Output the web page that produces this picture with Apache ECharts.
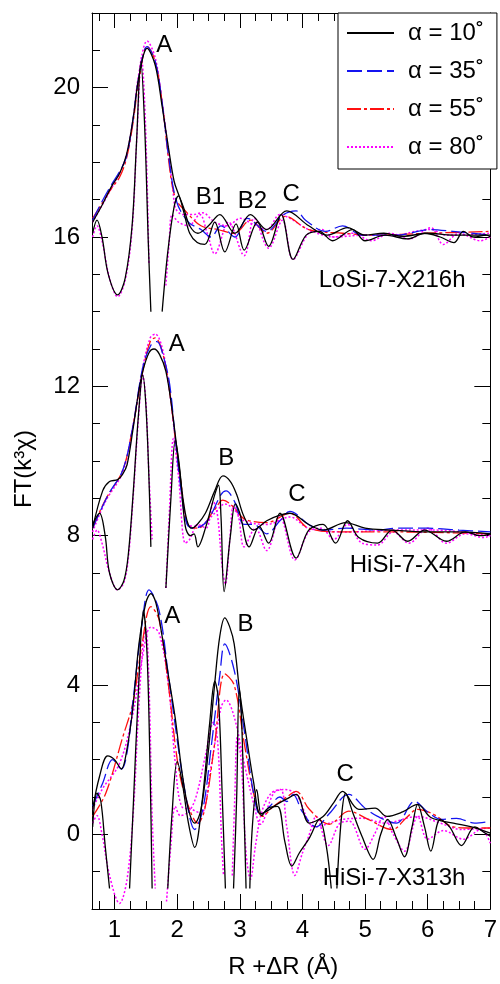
<!DOCTYPE html>
<html>
<head>
<meta charset="utf-8">
<script src="https://cdn.jsdelivr.net/npm/echarts@6/dist/echarts.min.js"></script>
<style>
  html, body { margin: 0; padding: 0; background: #fff; }
  #chart { width: 500px; height: 984px; }
</style>
</head>
<body>
<div id="chart"></div>
<script>
// FT magnitude and imaginary parts, three samples stacked with offsets (16, 8, 0).
// Each curve: [R + dR (Å), plotted value]; null marks a break where the trace leaves the panel.

const angleNames = ['α = 10˚', 'α = 35˚', 'α = 55˚', 'α = 80˚'];

// ---- LoSi-7-X216h (offset 16)
const losiMag10 = [[0.65,16.4],[0.8,16.85],[0.95,17.35],[1.08,17.7],[1.19,18.2],[1.29,19.1],[1.39,20.3],[1.52,21.05],[1.65,20.6],[1.76,19.5],[1.86,18.4],[1.95,17.5],[2.02,17.15],[2.1,16.8],[2.2,16.3],[2.33,16.1],[2.5,16.3],[2.68,16.6],[2.92,16.1],[3.17,16.6],[3.43,16.2],[3.75,16.7],[4.1,16.3],[4.4,16.05],[4.72,16.25],[5.0,16.05],[5.3,16.1],[5.6,16.02],[6.0,16.1],[6.4,16.05],[7.0,16.05]];
const losiMag35 = [[0.65,16.45],[0.8,16.95],[0.95,17.4],[1.08,17.75],[1.19,18.15],[1.29,19.1],[1.39,20.3],[1.52,21.1],[1.65,20.7],[1.76,19.6],[1.86,18.2],[1.99,16.95],[2.18,16.4],[2.38,16.2],[2.54,16.0],[2.7,16.3],[2.92,16.0],[3.12,16.5],[3.43,16.15],[3.7,16.6],[3.9,16.7],[4.05,16.45],[4.37,16.15],[4.64,16.3],[4.95,16.05],[5.5,16.05],[6.05,16.2],[6.4,16.15],[7.0,16.05]];
const losiMag55 = [[0.65,16.5],[0.8,16.9],[0.95,17.3],[1.08,17.6],[1.19,18.1],[1.29,19.0],[1.39,20.2],[1.52,21.1],[1.65,20.7],[1.76,19.6],[1.86,18.1],[1.93,17.3],[2.0,16.95],[2.13,16.7],[2.38,16.3],[2.65,16.2],[2.91,16.1],[3.17,16.45],[3.43,16.1],[3.73,16.55],[4.1,16.2],[4.64,16.1],[5.16,16.05],[6.0,16.1],[7.0,16.15]];
const losiMag80 = [[0.65,16.4],[0.8,16.85],[0.95,17.3],[1.08,17.7],[1.19,18.2],[1.29,19.1],[1.39,20.4],[1.52,21.25],[1.65,20.8],[1.76,19.6],[1.86,18.3],[1.93,17.3],[1.98,16.75],[2.1,16.6],[2.25,16.6],[2.4,16.65],[2.6,16.4],[2.8,16.3],[3.01,16.5],[3.2,16.35],[3.43,16.2],[3.64,16.6],[3.8,16.5],[4.1,16.2],[4.5,16.0],[5.0,16.05],[5.5,16.05],[5.8,16.15],[6.05,16.2],[6.3,16.05],[7.0,16.1]];
const losiIm10 = [[0.65,16.1],[0.72,16.45],[0.8,16.0],[0.9,15.0],[1.05,14.45],[1.17,14.9],[1.28,16.3],[1.35,18.5],[1.42,20.7],[1.48,19.0],[1.54,15.8],[1.58,14.0],[1.67,null],[1.76,14.0],[1.85,15.6],[1.95,16.8],[2.02,17.1],[2.1,16.7],[2.2,16.1],[2.32,15.85],[2.44,15.8],[2.6,16.4],[2.76,15.6],[2.94,16.35],[3.07,15.65],[3.28,16.4],[3.46,15.75],[3.66,16.6],[3.85,15.4],[4.06,16.05],[4.27,16.15],[4.48,15.9],[4.8,16.2],[5.0,15.9],[5.32,16.05],[5.68,15.95],[5.95,16.1],[6.2,16.0],[6.42,15.85],[6.57,16.15],[6.73,16.0],[6.94,16.05],[7.0,16.0]];
const losiIm80 = [[0.65,16.0],[0.72,16.3],[0.8,15.9],[0.92,14.9],[1.05,14.4],[1.17,14.85],[1.28,16.2],[1.36,18.8],[1.43,20.8],[1.49,19.2],[1.55,15.25],[1.68,null],[1.82,14.7],[1.87,15.8],[1.92,16.6],[2.02,16.4],[2.18,16.3],[2.36,16.6],[2.48,16.1],[2.6,15.55],[2.82,16.4],[3.07,15.5],[3.23,16.5],[3.46,15.7],[3.68,16.45],[3.85,15.4],[4.1,16.1],[4.3,16.2],[4.5,16.0],[4.8,16.1],[5.1,15.9],[5.4,16.1],[5.7,15.95],[6.05,16.25],[6.25,15.8],[6.5,16.1],[6.84,15.9],[7.0,16.0]];

// ---- HiSi-7-X4h (offset 8)
const x4Mag10 = [[0.65,8.2],[0.81,9.2],[0.92,9.45],[1.05,9.5],[1.13,9.65],[1.2,9.9],[1.29,10.8],[1.37,11.7],[1.45,12.4],[1.55,12.9],[1.63,13.0],[1.72,12.85],[1.82,12.4],[1.92,11.35],[2.02,10.0],[2.13,8.6],[2.23,8.2],[2.32,8.3],[2.45,8.6],[2.6,9.2],[2.73,9.6],[2.85,9.45],[2.95,9.1],[3.07,8.5],[3.22,8.15],[3.43,8.4],[3.64,8.55],[3.8,8.6],[4.1,8.3],[4.33,8.15],[4.69,8.35],[5.0,8.2],[5.4,8.15],[6.0,8.1],[6.5,8.1],[7.0,8.05]];
const x4Mag35 = [[0.65,8.2],[0.9,9.1],[1.13,9.75],[1.29,10.9],[1.45,12.5],[1.58,13.1],[1.68,13.2],[1.78,12.8],[1.88,12.05],[1.97,10.6],[2.06,9.25],[2.16,8.3],[2.28,8.2],[2.48,8.4],[2.7,9.1],[2.78,9.2],[2.92,8.9],[3.07,8.3],[3.22,8.3],[3.43,8.05],[3.64,8.4],[3.8,8.65],[4.1,8.3],[4.33,8.15],[4.7,8.2],[5.2,8.15],[5.5,8.2],[6.0,8.2],[6.5,8.15],[7.0,8.1]];
const x4Mag55 = [[0.65,8.2],[0.85,8.95],[1.13,9.75],[1.29,10.9],[1.45,12.4],[1.57,13.2],[1.65,13.3],[1.75,13.0],[1.86,12.1],[1.97,10.6],[2.07,9.3],[2.17,8.3],[2.33,8.2],[2.6,8.7],[2.73,8.95],[2.91,8.75],[3.07,8.45],[3.43,8.35],[3.8,8.6],[4.1,8.2],[4.64,8.1],[5.5,8.1],[7.0,8.05]];
const x4Mag80 = [[0.65,8.1],[0.85,8.9],[1.13,9.7],[1.29,10.9],[1.45,12.5],[1.57,13.3],[1.65,13.4],[1.75,13.1],[1.86,12.1],[1.97,10.6],[2.07,9.2],[2.17,8.3],[2.33,8.25],[2.6,8.6],[2.76,8.85],[2.91,8.7],[3.07,8.4],[3.43,8.3],[3.8,8.5],[4.1,8.2],[4.7,8.1],[5.5,8.15],[6.1,8.15],[7.0,8.0]];
const x4Im10 = [[0.65,8.3],[0.76,8.6],[0.85,8.0],[0.92,7.0],[1.05,6.55],[1.15,6.8],[1.22,7.5],[1.3,9.2],[1.38,11.2],[1.45,12.3],[1.5,11.5],[1.55,9.5],[1.58,7.7],[1.7,null],[1.82,6.6],[1.9,9.0],[1.97,10.55],[2.04,9.8],[2.13,8.25],[2.21,8.0],[2.27,8.05],[2.33,7.7],[2.46,8.25],[2.6,9.1],[2.66,9.35],[2.7,8.5],[2.75,6.5],[2.85,8.0],[2.93,8.85],[3.0,8.6],[3.15,7.7],[3.31,8.25],[3.46,7.8],[3.64,8.6],[3.9,7.4],[4.1,8.15],[4.33,8.3],[4.53,7.8],[4.72,8.4],[4.9,7.95],[5.2,7.8],[5.43,8.15],[5.68,7.85],[5.95,8.15],[6.3,7.85],[6.6,8.1],[6.85,8.0],[7.0,8.05]];
const x4Im80 = [[0.65,7.9],[0.72,8.15],[0.8,7.8],[0.92,7.0],[1.05,6.55],[1.15,6.75],[1.22,7.4],[1.3,9.1],[1.38,11.1],[1.45,12.3],[1.5,11.6],[1.55,9.6],[1.6,7.9],[1.71,null],[1.82,6.6],[1.88,8.8],[1.94,10.6],[2.02,9.6],[2.13,7.8],[2.2,7.9],[2.33,8.3],[2.46,8.2],[2.58,8.9],[2.64,8.6],[2.72,7.15],[2.77,6.7],[2.84,7.9],[2.9,8.8],[2.98,8.5],[3.07,7.7],[3.25,8.2],[3.43,7.6],[3.64,8.5],[3.88,7.35],[4.1,8.1],[4.3,8.2],[4.5,7.9],[4.72,8.3],[4.95,7.8],[5.2,7.75],[5.45,8.1],[5.7,7.8],[6.0,8.2],[6.3,7.8],[6.6,8.05],[6.9,7.95],[7.0,8.0]];

// ---- HiSi-7-X313h (offset 0)
const x313Mag10 = [[0.65,0.67],[0.76,1.55],[0.89,2.1],[1.0,2.0],[1.11,1.75],[1.19,2.2],[1.29,3.35],[1.39,5.1],[1.5,6.2],[1.58,6.45],[1.66,6.2],[1.76,5.3],[1.86,4.25],[1.97,3.1],[2.07,1.75],[2.18,0.67],[2.28,0.3],[2.38,0.67],[2.49,2.1],[2.6,4.05],[2.68,5.3],[2.76,5.8],[2.84,5.55],[2.91,5.1],[3.0,3.8],[3.12,2.45],[3.22,1.4],[3.33,0.55],[3.46,0.65],[3.59,0.8],[3.75,0.95],[3.9,1.07],[4.11,0.3],[4.33,0.48],[4.5,0.85],[4.64,1.15],[4.9,0.67],[5.16,0.7],[5.35,0.48],[5.6,0.6],[5.84,0.8],[6.05,0.45],[6.41,0.3],[6.7,0.2],[7.0,0.03]];
const x313Mag35 = [[0.65,0.75],[0.81,1.37],[0.97,2.0],[1.11,1.75],[1.2,2.2],[1.29,3.5],[1.44,5.65],[1.55,6.55],[1.71,6.0],[1.86,4.25],[2.02,2.3],[2.13,1.1],[2.28,0.13],[2.41,0.67],[2.54,2.3],[2.68,4.25],[2.76,5.1],[2.91,4.4],[3.07,2.8],[3.22,1.1],[3.33,0.52],[3.48,0.75],[3.64,1.0],[3.75,0.88],[3.85,1.07],[4.0,0.6],[4.22,0.2],[4.43,0.56],[4.74,1.07],[5.0,0.7],[5.2,0.48],[5.5,0.3],[5.79,0.88],[6.0,0.6],[6.22,0.4],[6.46,0.43],[6.75,0.3],[7.0,0.35]];
const x313Mag55 = [[0.65,0.48],[0.86,1.1],[1.13,2.6],[1.29,3.5],[1.44,5.1],[1.58,6.1],[1.71,5.75],[1.86,4.0],[2.02,1.8],[2.18,0.75],[2.33,0.3],[2.44,0.67],[2.6,2.45],[2.76,4.3],[2.91,4.0],[3.07,2.45],[3.22,1.1],[3.36,0.48],[3.54,0.75],[3.75,1.0],[3.9,1.15],[4.11,0.67],[4.43,0.27],[4.74,0.62],[5.05,0.4],[5.43,0.13],[5.68,0.48],[5.84,0.67],[6.1,0.53],[6.41,0.2],[6.73,0.17],[7.0,0.17]];
const x313Mag80 = [[0.65,0.67],[0.8,1.2],[1.08,1.9],[1.29,3.2],[1.44,4.7],[1.58,5.55],[1.71,5.4],[1.86,4.0],[1.97,1.9],[2.07,0.75],[2.23,0.67],[2.38,0.56],[2.54,1.8],[2.7,3.4],[2.78,3.6],[2.91,3.15],[3.07,1.9],[3.22,0.83],[3.33,0.27],[3.54,1.1],[3.7,1.2],[3.9,1.07],[4.2,0.2],[4.64,0.4],[4.95,0.43],[5.32,0.3],[5.84,0.48],[6.2,0.3],[6.54,0.13],[7.0,0.17]];
const x313Im10 = [[0.65,0.2],[0.72,1.1],[0.78,0.9],[0.85,-0.3],[0.92,-1.45],[1.08,null],[1.24,-1.45],[1.3,0.8],[1.38,3.8],[1.46,6.0],[1.52,4.8],[1.57,1.5],[1.6,-1.45],[1.72,null],[1.85,-1.45],[1.92,0.6],[2.0,1.95],[2.08,1.4],[2.18,0.3],[2.28,-0.35],[2.4,0.9],[2.52,3.0],[2.6,4.1],[2.66,3.6],[2.72,1.0],[2.77,-1.45],[2.83,null],[2.9,-1.45],[2.95,1.0],[2.99,3.9],[3.03,3.0],[3.07,0.5],[3.1,-1.45],[3.13,null],[3.16,-1.45],[3.2,0.2],[3.27,1.2],[3.35,0.5],[3.45,0.7],[3.6,0.75],[3.72,-0.2],[3.83,-0.85],[3.95,-0.5],[4.11,-0.1],[4.27,0.4],[4.38,-0.3],[4.46,-1.45],[4.5,null],[4.55,-1.45],[4.62,0.4],[4.69,1.1],[4.8,0.6],[4.95,-0.05],[5.13,-0.67],[5.25,0.0],[5.36,0.4],[5.5,-0.1],[5.63,-0.6],[5.75,0.2],[5.84,0.8],[5.95,0.2],[6.05,-0.45],[6.2,0.4],[6.35,0.2],[6.54,-0.3],[6.75,0.2],[6.9,0.05],[7.0,-0.05]];
const x313Im80 = [[0.65,0.3],[0.72,0.5],[0.8,0.0],[0.92,-1.1],[1.08,-1.85],[1.2,-1.2],[1.3,0.6],[1.38,3.2],[1.46,5.2],[1.5,5.5],[1.55,4.0],[1.6,0.5],[1.65,-1.45],[1.74,null],[1.83,-1.8],[1.9,-0.3],[1.97,0.75],[2.05,0.5],[2.18,0.6],[2.3,1.0],[2.45,2.1],[2.58,3.0],[2.65,2.4],[2.71,-0.2],[2.74,-1.1],[2.81,null],[2.88,-1.1],[2.92,1.0],[2.96,2.6],[3.02,2.0],[3.1,-0.5],[3.17,-1.2],[3.25,-0.3],[3.35,0.6],[3.5,1.1],[3.65,1.2],[3.75,0.2],[3.88,-1.1],[4.0,-0.5],[4.1,-0.05],[4.22,0.48],[4.41,-0.3],[4.6,0.3],[4.75,0.35],[5.0,-0.4],[5.15,0.0],[5.3,0.48],[5.45,0.0],[5.63,-0.45],[5.84,0.48],[6.0,-0.13],[6.25,0.1],[6.57,-0.13],[6.85,0.13],[7.0,-0.24]];

// Peak and sample labels: [text, R, value]
const peakLabels = [
  ['A', 1.80, 21.12], ['B1', 2.54, 17.06], ['B2', 3.21, 16.95], ['C', 3.83, 17.14],
  ['A', 2.00, 13.11], ['B', 2.79, 10.06], ['C', 3.92, 9.08],
  ['A', 1.93, 5.82], ['B', 3.10, 5.61], ['C', 4.69, 1.60]
];
const sampleLabels = [
  ['LoSi-7-X216h', 5.44, 14.82],
  ['HiSi-7-X4h', 5.69, 7.18],
  ['HiSi-7-X313h', 5.47, -1.20]
];

// Axis ticks
const xMajorTicks = [1, 2, 3, 4, 5, 6, 7];
const xMinorTicks = [0.75, 1.25, 1.5, 1.75, 2.25, 2.5, 2.75, 3.25, 3.5, 3.75, 4.25, 4.5, 4.75, 5.25, 5.5, 5.75, 6.25, 6.5, 6.75];
const yMajorTicks = [0, 4, 8, 12, 16, 20];
const yMinorTicks = [-1, 1, 2, 3, 5, 6, 7, 9, 10, 11, 13, 14, 15, 17, 18, 19, 21];

const FONT = '"Liberation Sans", Arial, Helvetica, sans-serif';
const X_MIN = 0.64, X_MAX = 7, Y_MIN = -2, Y_MAX = 22;

const angleStyles = [
  { color: '#000000', type: 'solid', width: 1.3 },
  { color: '#1414f0', type: [15, 5], width: 1.3 },
  { color: '#ff1010', type: [14, 3, 3, 3], width: 1.3 },
  { color: '#ff00ff', type: [2, 2], width: 1.5 }
];

function curve(angleIndex, pts) {
  const st = angleStyles[angleIndex];
  return {
    type: 'line',
    name: angleNames[angleIndex],
    data: pts.map(p => [p[0], p[1] === null ? '-' : p[1]]),
    symbol: 'none',
    showSymbol: false,
    smooth: 0.35,
    connectNulls: false,
    clip: true,
    silent: true,
    lineStyle: { color: st.color, width: st.width, type: st.type },
    itemStyle: { color: st.color },
    z: 3 + (3 - angleIndex) * 0.1
  };
}

const series = [
  // magnitudes first so the legend picks up their styles
  curve(0, losiMag10), curve(1, losiMag35), curve(2, losiMag55), curve(3, losiMag80),
  curve(0, x4Mag10), curve(1, x4Mag35), curve(2, x4Mag55), curve(3, x4Mag80),
  curve(0, x313Mag10), curve(1, x313Mag35), curve(2, x313Mag55), curve(3, x313Mag80),
  curve(0, losiIm10), curve(3, losiIm80),
  curve(0, x4Im10), curve(3, x4Im80),
  curve(0, x313Im10), curve(3, x313Im80),
  {
    type: 'scatter',
    name: 'labels',
    silent: true,
    symbolSize: 1,
    itemStyle: { color: '#fff', opacity: 0 },
    data: peakLabels.concat(sampleLabels).map(l => ({ name: l[0], value: [l[1], l[2]] })),
    label: {
      show: true, position: [0, 0], align: 'center', verticalAlign: 'middle',
      formatter: '{b}', color: '#000', opacity: 1, textBorderWidth: 0,
      fontSize: 24, fontFamily: FONT
    },
    z: 6
  }
];

function xAxisDef(position, ticks, len, isMain) {
  return {
    type: 'value', position, min: X_MIN, max: X_MAX,
    axisLine: { show: isMain, onZero: false, lineStyle: { color: '#000', width: 1 } },
    axisTick: { show: true, inside: true, length: len, customValues: ticks, lineStyle: { color: '#000', width: 1 } },
    axisLabel: isMain && position === 'bottom'
      ? { show: true, customValues: xMajorTicks, color: '#000', fontSize: 24, fontFamily: FONT, margin: 9 }
      : { show: false },
    splitLine: { show: false },
    name: isMain && position === 'bottom' ? 'R +ΔR (Å)' : '',
    nameLocation: 'middle', nameGap: 46,
    nameTextStyle: { color: '#000', fontSize: 24, fontFamily: FONT, padding: [0, 16, 0, 0] }
  };
}

function yAxisDef(position, ticks, len, isMain) {
  return {
    type: 'value', position, min: Y_MIN, max: Y_MAX,
    axisLine: { show: isMain, onZero: false, lineStyle: { color: '#000', width: 1 } },
    axisTick: { show: true, inside: true, length: len, customValues: ticks, lineStyle: { color: '#000', width: 1 } },
    axisLabel: isMain && position === 'left'
      ? { show: true, customValues: yMajorTicks, color: '#000', fontSize: 24, fontFamily: FONT, margin: 12 }
      : { show: false },
    splitLine: { show: false },
    name: isMain && position === 'left' ? 'FT(k³χ)' : '',
    nameLocation: 'middle', nameGap: 56, nameRotate: 90,
    nameTextStyle: { color: '#000', fontSize: 24, fontFamily: FONT, padding: [0, 16, 0, 0] }
  };
}

const chart = echarts.init(document.getElementById('chart'), null, { renderer: 'canvas' });
chart.setOption({
  animation: false,
  backgroundColor: '#fff',
  grid: { left: 92, right: 2, top: 13, bottom: 71, containLabel: false },
  xAxis: [
    xAxisDef('bottom', xMajorTicks, 15, true),
    xAxisDef('bottom', xMinorTicks, 8, false),
    xAxisDef('top', xMajorTicks, 15, true),
    xAxisDef('top', xMinorTicks, 8, false)
  ],
  yAxis: [
    yAxisDef('left', yMajorTicks, 16, true),
    yAxisDef('left', yMinorTicks, 8, false),
    yAxisDef('right', yMajorTicks, 16, true),
    yAxisDef('right', yMinorTicks, 8, false)
  ],
  legend: {
    data: angleNames,
    orient: 'vertical',
    left: 338, top: 13,
    padding: [8, 13, 10, 8],
    itemWidth: 47, itemHeight: 14, itemGap: 14,
    backgroundColor: '#fff',
    borderColor: '#000', borderWidth: 1, borderRadius: 0,
    selectedMode: false,
    itemStyle: { opacity: 0 },
    textStyle: { color: '#000', fontSize: 24, fontFamily: FONT, padding: [0, 0, 0, 9] },
    z: 10
  },
  series
});
</script>
</body>
</html>
